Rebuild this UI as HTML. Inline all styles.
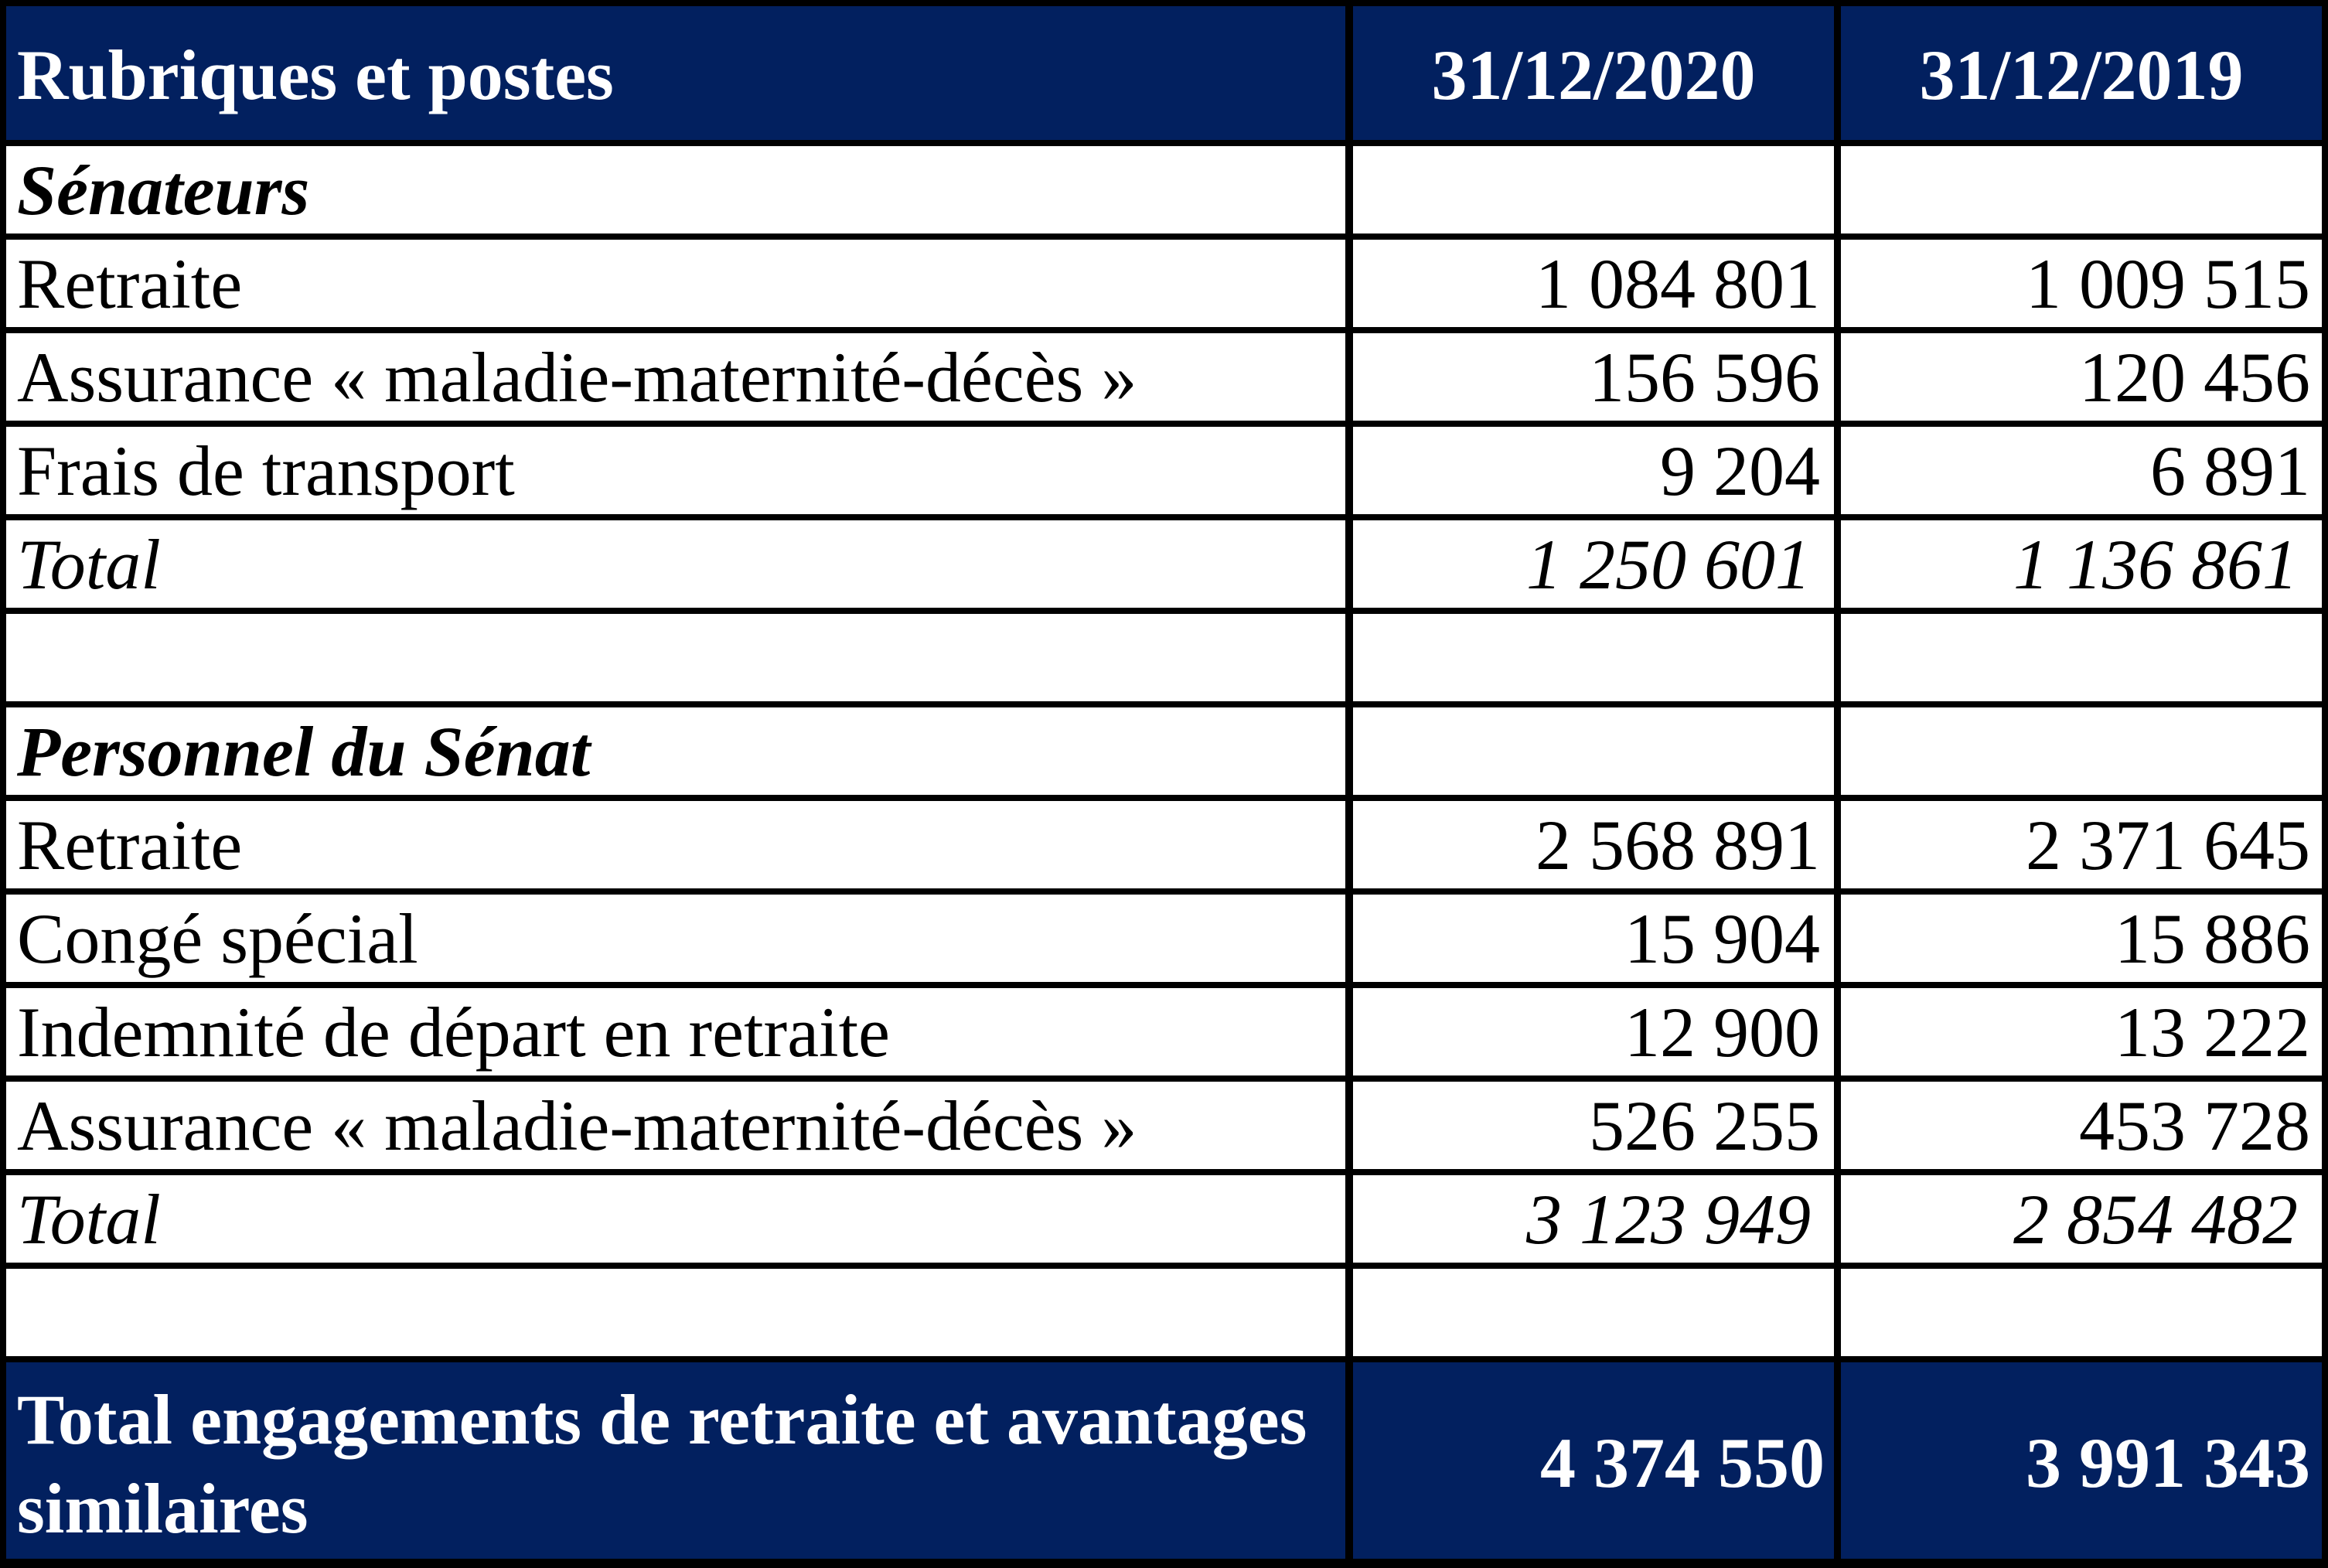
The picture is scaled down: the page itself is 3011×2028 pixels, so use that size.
<!DOCTYPE html>
<html><head><meta charset="utf-8"><style>
html,body{margin:0;padding:0;}
body{width:3011px;height:2028px;position:relative;background:#000;overflow:hidden;font-family:"Liberation Serif",serif;}
.c{position:absolute;background:#fff;}
.n{background:#02205f;}
.t{position:absolute;font-size:92px;line-height:92px;white-space:nowrap;color:#000;}
.w{color:#fff;font-weight:bold;}
.b{font-weight:bold;}
.i{font-style:italic;}
.r{text-align:right;}
.row{position:absolute;left:0;width:3011px;height:113px;}
.row .a{position:absolute;left:8px;top:0;width:1732px;height:113px;background:#fff;}
.row .m{position:absolute;left:1750px;top:0;width:622px;height:113px;background:#fff;}
.row .z{position:absolute;left:2381px;top:0;width:622px;height:113px;background:#fff;}
.row .l{position:absolute;left:22px;top:11px;font-size:92px;line-height:92px;white-space:nowrap;}
.row .v1{position:absolute;left:1750px;width:604px;top:11px;text-align:right;font-size:92px;line-height:92px;white-space:nowrap;}
.row .v2{position:absolute;left:2381px;width:607px;top:11px;text-align:right;font-size:92px;line-height:92px;white-space:nowrap;}
.row.it .v1{width:592px;}
.row.it .v2{width:591px;}
.row.it div{font-style:italic;}
</style></head><body>
<div class="c n" style="left:8px;top:8px;width:1732px;height:173px"></div>
<div class="c n" style="left:1750px;top:8px;width:622px;height:173px"></div>
<div class="c n" style="left:2381px;top:8px;width:622px;height:173px"></div>
<div class="t w" style="left:22px;top:51px">Rubriques et postes</div>
<div class="t w" style="left:1750px;width:622px;text-align:center;top:51px">31/12/2020</div>
<div class="t w" style="left:2381px;width:622px;text-align:center;top:51px">31/12/2019</div>

<div class="row" style="top:189px"><div class="a"></div><div class="m"></div><div class="z"></div><div class="l b i">Sénateurs</div></div>
<div class="row" style="top:310px"><div class="a"></div><div class="m"></div><div class="z"></div><div class="l">Retraite</div><div class="v1">1 084 801</div><div class="v2">1 009 515</div></div>
<div class="row" style="top:431px"><div class="a"></div><div class="m"></div><div class="z"></div><div class="l">Assurance « maladie-maternité-décès »</div><div class="v1">156 596</div><div class="v2">120 456</div></div>
<div class="row" style="top:552px"><div class="a"></div><div class="m"></div><div class="z"></div><div class="l">Frais de transport</div><div class="v1">9 204</div><div class="v2">6 891</div></div>
<div class="row it" style="top:673px"><div class="a"></div><div class="m"></div><div class="z"></div><div class="l">Total</div><div class="v1">1 250 601</div><div class="v2">1 136 861</div></div>
<div class="row" style="top:794px"><div class="a"></div><div class="m"></div><div class="z"></div></div>
<div class="row" style="top:915px"><div class="a"></div><div class="m"></div><div class="z"></div><div class="l b i">Personnel du Sénat</div></div>
<div class="row" style="top:1036px"><div class="a"></div><div class="m"></div><div class="z"></div><div class="l">Retraite</div><div class="v1">2 568 891</div><div class="v2">2 371 645</div></div>
<div class="row" style="top:1157px"><div class="a"></div><div class="m"></div><div class="z"></div><div class="l">Congé spécial</div><div class="v1">15 904</div><div class="v2">15 886</div></div>
<div class="row" style="top:1278px"><div class="a"></div><div class="m"></div><div class="z"></div><div class="l">Indemnité de départ en retraite</div><div class="v1">12 900</div><div class="v2">13 222</div></div>
<div class="row" style="top:1399px"><div class="a"></div><div class="m"></div><div class="z"></div><div class="l">Assurance « maladie-maternité-décès »</div><div class="v1">526 255</div><div class="v2">453 728</div></div>
<div class="row it" style="top:1520px"><div class="a"></div><div class="m"></div><div class="z"></div><div class="l">Total</div><div class="v1">3 123 949</div><div class="v2">2 854 482</div></div>
<div class="row" style="top:1641px"><div class="a"></div><div class="m"></div><div class="z"></div></div>

<div class="c n" style="left:8px;top:1762px;width:1732px;height:254px"></div>
<div class="c n" style="left:1750px;top:1762px;width:622px;height:254px"></div>
<div class="c n" style="left:2381px;top:1762px;width:622px;height:254px"></div>
<div class="t w" style="left:22px;top:1790px">Total engagements de retraite et avantages</div>
<div class="t w" style="left:22px;top:1905px">similaires</div>
<div class="t w r" style="left:1750px;width:610px;top:1846px">4 374 550</div>
<div class="t w r" style="left:2381px;width:607px;top:1846px">3 991 343</div>
</body></html>
